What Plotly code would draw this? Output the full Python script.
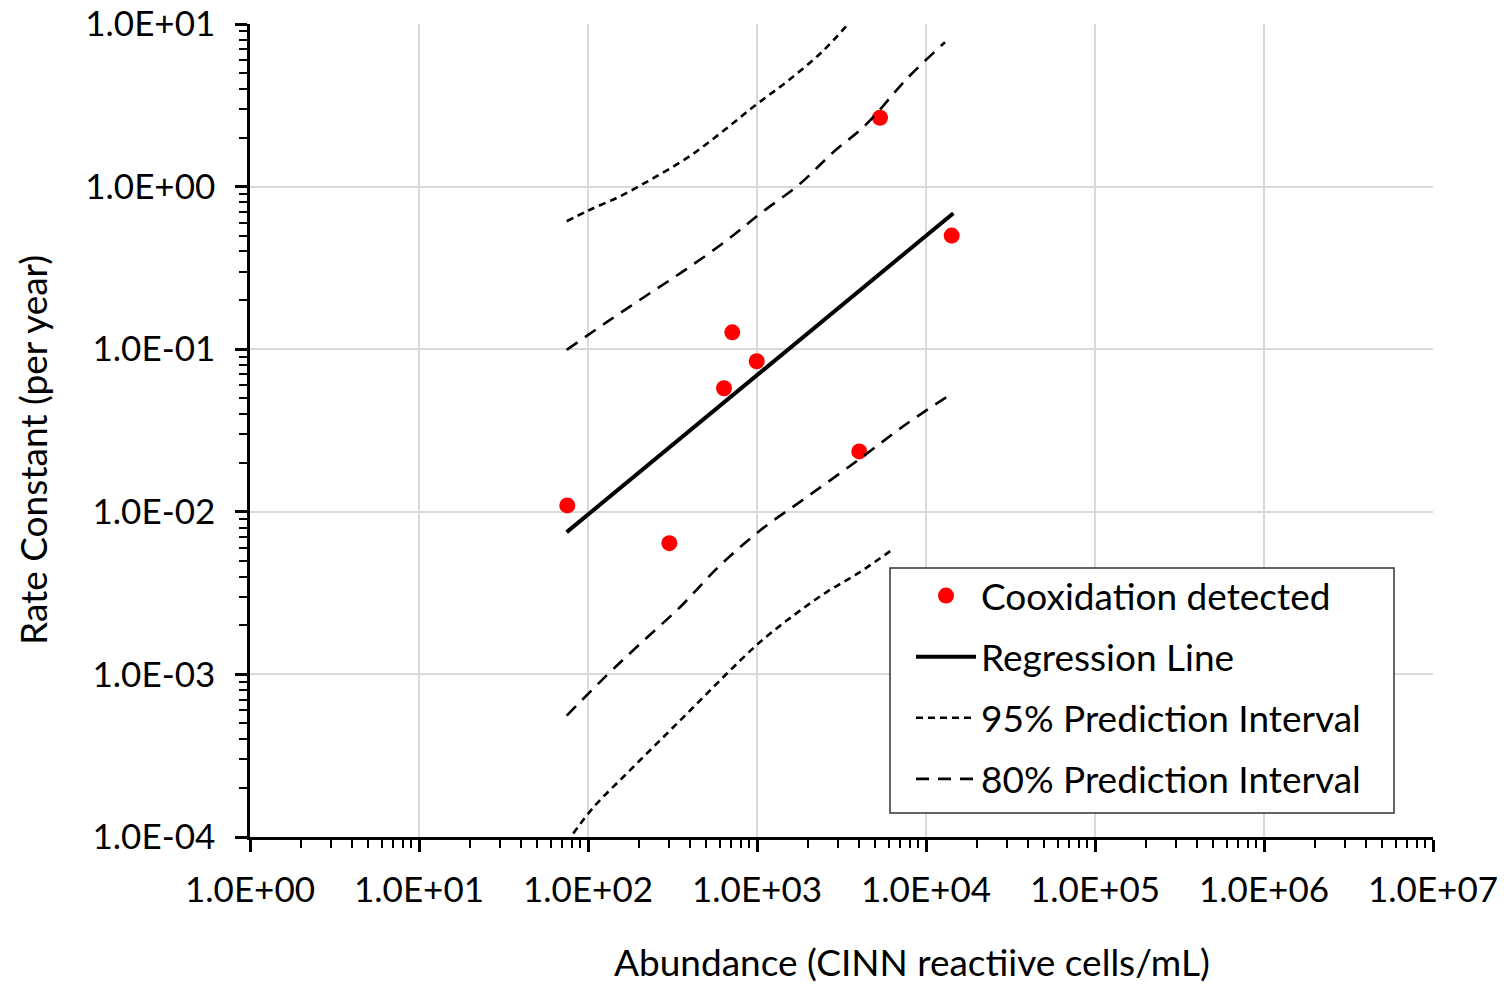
import plotly.graph_objects as go

# Observed data (Cooxidation detected)
obs_x = [75.4, 303, 638, 714, 996, 4030, 5343, 14190]
obs_y = [0.01094, 0.00641, 0.0575, 0.127, 0.0843, 0.0235, 2.65, 0.500]

# Regression line
reg_x = [74.8, 14520]
reg_y = [0.0075, 0.686]

# 95% prediction interval
pi95_up_x = [74.8, 100.5, 158, 249, 392, 618, 973, 1531, 2415, 3467]
pi95_up_y = [0.612, 0.713, 0.881, 1.143, 1.517, 2.16, 3.15, 4.49, 6.71, 10.0]
pi95_lo_x = [81.8, 107.5, 169, 267, 420, 662, 1042, 1641, 2582, 4064, 6412]
pi95_lo_y = [0.000105, 0.000152, 0.000245, 0.000393, 0.000628, 0.00101, 0.00158, 0.00230, 0.00321, 0.00426, 0.00592]

# 80% prediction interval
pi80_up_x = [74.8, 129, 222, 384, 662, 1042, 1796, 2829, 4456, 7691, 12950]
pi80_up_y = [0.0991, 0.1466, 0.214, 0.312, 0.467, 0.681, 1.04, 1.63, 2.43, 4.60, 7.73]
pi80_lo_x = [74.8, 129, 203, 350, 604, 1042, 1968, 4064, 7691, 14170]
pi80_lo_y = [0.000558, 0.000986, 0.00154, 0.00259, 0.00468, 0.00767, 0.0123, 0.0212, 0.0348, 0.0532]

x_tickvals = [1, 10, 100, 1e3, 1e4, 1e5, 1e6, 1e7]
x_ticktext = ["1.0E+00", "1.0E+01", "1.0E+02", "1.0E+03", "1.0E+04", "1.0E+05", "1.0E+06", "1.0E+07"]
y_tickvals = [1e-4, 1e-3, 1e-2, 1e-1, 1, 10]
y_ticktext = ["1.0E-04", "1.0E-03", "1.0E-02", "1.0E-01", "1.0E+00", "1.0E+01"]

FONT = "Lato"
dash95 = "7px,5px"
dash80 = "13px,9px"
lw_pi = 2.6

# page offset from default HTML body margin
OFF = 8
FIG_W, FIG_H = 1509 - OFF, 986 - OFF
# plot-area geometry in screen pixels
L, R, T, B = 250, 1433, 24, 837
W, H = R - L, B - T


def px(xp):
    return (xp - L) / W


def py(yp):
    return (B - yp) / H


fig = go.Figure()
fig.add_trace(go.Scatter(x=obs_x, y=obs_y, mode="markers", name="Cooxidation detected",
                         marker=dict(color="#ff0000", size=16, line=dict(width=0)),
                         legendgroup="a"))
fig.add_trace(go.Scatter(x=reg_x, y=reg_y, mode="lines", name="Regression Line",
                         line=dict(color="black", width=4), legendgroup="b"))
fig.add_trace(go.Scatter(x=pi95_up_x, y=pi95_up_y, mode="lines", name="95% Prediction Interval",
                         line=dict(color="black", width=lw_pi, dash=dash95, shape="spline"),
                         legendgroup="c"))
fig.add_trace(go.Scatter(x=pi95_lo_x, y=pi95_lo_y, mode="lines", showlegend=False,
                         line=dict(color="black", width=lw_pi, dash=dash95, shape="spline"),
                         legendgroup="c"))
fig.add_trace(go.Scatter(x=pi80_up_x, y=pi80_up_y, mode="lines", name="80% Prediction Interval",
                         line=dict(color="black", width=lw_pi, dash=dash80, shape="spline"),
                         legendgroup="d"))
fig.add_trace(go.Scatter(x=pi80_lo_x, y=pi80_lo_y, mode="lines", showlegend=False,
                         line=dict(color="black", width=lw_pi, dash=dash80, shape="spline"),
                         legendgroup="d"))

fig.update_layout(
    width=FIG_W, height=FIG_H,
    margin=dict(l=L - OFF, r=FIG_W - (R - OFF), t=T - OFF, b=FIG_H - (B - OFF), autoexpand=False),
    paper_bgcolor="white", plot_bgcolor="white",
    font=dict(family=FONT, size=35, color="black"),
    showlegend=True,
    legend=dict(x=px(911), y=py(565), xanchor="left", yanchor="top",
                bgcolor="rgba(0,0,0,0)", borderwidth=0,
                font=dict(family=FONT, size=37, color="black"),
                itemwidth=60, tracegroupgap=10, traceorder="grouped"),
    xaxis=dict(type="log", range=[0, 7], tickmode="array", tickvals=x_tickvals, ticktext=x_ticktext,
               automargin=False, ticklabeloverflow="allow",
               showgrid=True, gridcolor="#d9d9d9", gridwidth=1.5,
               showline=True, linecolor="black", linewidth=2.5,
               ticks="outside", ticklen=12, tickwidth=2.5, tickcolor="black",
               ticklabelstandoff=8, tickfont=dict(family=FONT, size=35),
               minor=dict(ticks="outside", ticklen=8, tickwidth=2, tickcolor="black",
                          dtick="D1", showgrid=False),
               zeroline=False),
    yaxis=dict(type="log", range=[-4, 1], tickmode="array", tickvals=y_tickvals, ticktext=y_ticktext,
               automargin=False, ticklabeloverflow="allow",
               showgrid=True, gridcolor="#d9d9d9", gridwidth=1.5,
               showline=True, linecolor="black", linewidth=2.5,
               ticks="outside", ticklen=12, tickwidth=2.5, tickcolor="black",
               ticklabelstandoff=13, tickfont=dict(family=FONT, size=35),
               minor=dict(ticks="outside", ticklen=8, tickwidth=2, tickcolor="black",
                          dtick="D1", showgrid=False),
               zeroline=False),
    shapes=[
        dict(type="rect", xref="paper", yref="paper",
             x0=px(890), x1=px(1394), y0=py(813), y1=py(568),
             line=dict(color="#333333", width=1.5), fillcolor="white", layer="above"),
    ],
    annotations=[
        dict(text="Abundance (CINN reactiive cells/mL)", xref="paper", yref="paper",
             x=px(912), y=py(961), xanchor="center", yanchor="middle",
             showarrow=False, font=dict(family=FONT, size=37)),
        dict(text="Rate Constant (per year)", xref="paper", yref="paper",
             x=px(32), y=py(450), xanchor="center", yanchor="middle",
             textangle=-90, showarrow=False, font=dict(family=FONT, size=37)),
    ],
)

fig.write_html("out.html")
